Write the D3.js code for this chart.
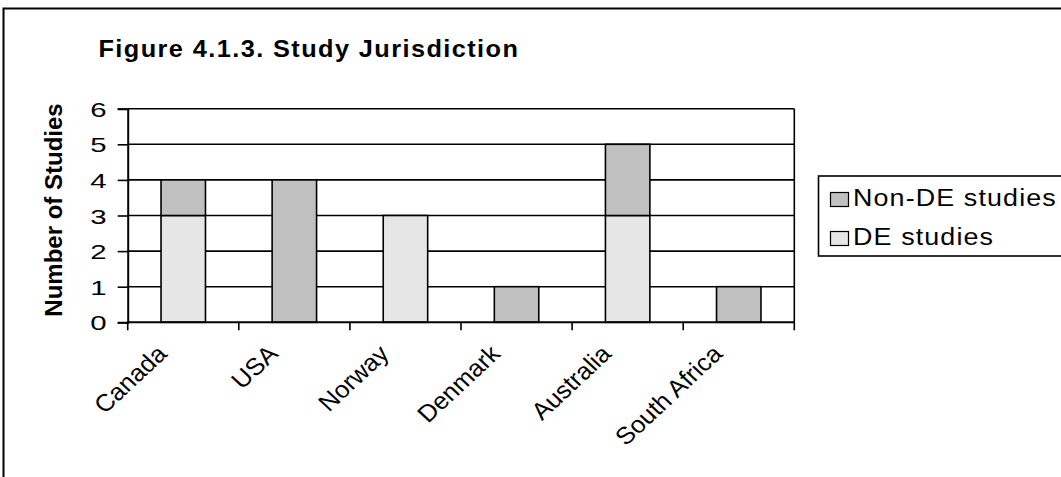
<!DOCTYPE html>
<html>
<head>
<meta charset="utf-8">
<script src="https://cdn.jsdelivr.net/npm/d3@7/dist/d3.min.js"></script>
<style>
  html, body { margin: 0; padding: 0; background: #fff; }
  svg { display: block; font-family: "Liberation Sans", Arial, sans-serif; }
</style>
</head>
<body>
<svg id="chart" width="1061" height="477"></svg>
<script>
const categories = ["Canada", "USA", "Norway", "Denmark", "Australia", "South Africa"];
const deStudies = [3, 0, 3, 0, 3, 0];
const nonDeStudies = [1, 4, 0, 1, 2, 1];
const yTicks = [0, 1, 2, 3, 4, 5, 6];
const seriesNames = ["Non-DE studies", "DE studies"];
const titleText = "Figure 4.1.3. Study Jurisdiction";
const yAxisTitle = "Number of Studies";

const colors = { "DE studies": "#e6e6e6", "Non-DE studies": "#c0c0c0" };
const FONT = "'Liberation Sans', Arial, sans-serif";

const svg = d3.select("#chart");

// outer frame
svg.append("rect")
  .attr("x", 3.5).attr("y", 8.5)
  .attr("width", 1100).attr("height", 500)
  .attr("fill", "none").attr("stroke", "#000").attr("stroke-width", 2);

const plot = { left: 127.7, right: 794.3, top: 108.7, bottom: 322.3 };

const x = d3.scaleBand()
  .domain(categories)
  .range([plot.left, plot.right])
  .paddingInner(0.6)
  .paddingOuter(0.3);

const y = d3.scaleLinear().domain([0, 6]).range([plot.bottom, plot.top]);

// gridlines
svg.append("g").selectAll("line").data(yTicks.filter(d => d > 0)).join("line")
  .attr("x1", plot.left).attr("x2", plot.right)
  .attr("y1", d => y(d)).attr("y2", d => y(d))
  .attr("stroke", "#000").attr("stroke-width", 1.6);

// right border
svg.append("line")
  .attr("x1", plot.right).attr("x2", plot.right)
  .attr("y1", plot.top).attr("y2", plot.bottom)
  .attr("stroke", "#000").attr("stroke-width", 1.6);

// stacked data
const stackData = categories.map((c, i) => ({ cat: c, "DE studies": deStudies[i], "Non-DE studies": nonDeStudies[i] }));
const stack = d3.stack().keys(["DE studies", "Non-DE studies"])(stackData);

svg.append("g").selectAll("g").data(stack).join("g")
  .attr("fill", s => colors[s.key])
  .selectAll("rect").data(s => s.filter(d => d[1] - d[0] > 0)).join("rect")
  .attr("x", d => x(d.data.cat))
  .attr("width", x.bandwidth())
  .attr("y", d => y(d[1]))
  .attr("height", d => y(d[0]) - y(d[1]))
  .attr("stroke", "#000").attr("stroke-width", 1.6);

// y axis
const yAxis = d3.axisLeft(y).tickValues(yTicks).tickSize(10).tickFormat(d3.format("d"));
const gy = svg.append("g").attr("transform", `translate(${plot.left},0)`).call(yAxis);
gy.select(".domain").attr("stroke", "#000").attr("stroke-width", 2);
gy.selectAll(".tick line").attr("stroke", "#000").attr("stroke-width", 1.6);
gy.selectAll(".tick text")
  .attr("x", null).attr("dy", null)
  .attr("transform", "translate(-21,7.5) scale(1.4,1)")
  .attr("text-anchor", "end")
  .attr("font-size", 21).attr("fill", "#000")
  .attr("font-family", FONT);

// x axis: ticks at category boundaries
const boundaries = d3.range(categories.length + 1).map(i => plot.left + i * x.step());
const gx = svg.append("g");
gx.append("line")
  .attr("x1", plot.left).attr("x2", plot.right)
  .attr("y1", plot.bottom).attr("y2", plot.bottom)
  .attr("stroke", "#000").attr("stroke-width", 2);
gx.selectAll("line.tk").data(boundaries).join("line").attr("class", "tk")
  .attr("x1", d => d).attr("x2", d => d)
  .attr("y1", plot.bottom).attr("y2", plot.bottom + 8)
  .attr("stroke", "#000").attr("stroke-width", 1.6);

gx.selectAll("text").data(categories).join("text")
  .attr("transform", d => `translate(${x(d) + x.bandwidth() / 2 - 15},${plot.bottom + 33}) scale(1.07,1) rotate(-45)`)
  .attr("text-anchor", "end")
  .attr("font-size", 24)
  .attr("fill", "#000")
  .text(d => d);

// title
svg.append("text")
  .attr("transform", "translate(98.5,56.5) scale(1.1,1)")
  .attr("font-size", 23).attr("font-weight", "bold")
  .attr("letter-spacing", 1.3)
  .attr("fill", "#000")
  .text(titleText);

// y axis title
svg.append("text")
  .attr("transform", `translate(62,210) rotate(-90)`)
  .attr("text-anchor", "middle")
  .attr("font-size", 24).attr("font-weight", "bold")
  .attr("fill", "#000")
  .text(yAxisTitle);

// legend
const lg = svg.append("g");
lg.append("rect")
  .attr("x", 818.5).attr("y", 176)
  .attr("width", 300).attr("height", 80)
  .attr("fill", "#fff").attr("stroke", "#000").attr("stroke-width", 1.6);

const items = lg.selectAll("g.item").data(seriesNames).join("g").attr("class", "item")
  .attr("transform", (d, i) => `translate(0,${i * 39})`);
items.append("rect")
  .attr("x", 830.5).attr("y", 192.5)
  .attr("width", 18).attr("height", 14)
  .attr("fill", d => colors[d]).attr("stroke", "#000").attr("stroke-width", 1.2);
items.append("text")
  .attr("transform", `translate(853,206) scale(1.12,1)`)
  .attr("font-size", 24)
  .attr("letter-spacing", 1)
  .attr("fill", "#000")
  .text(d => d);
</script>
</body>
</html>
